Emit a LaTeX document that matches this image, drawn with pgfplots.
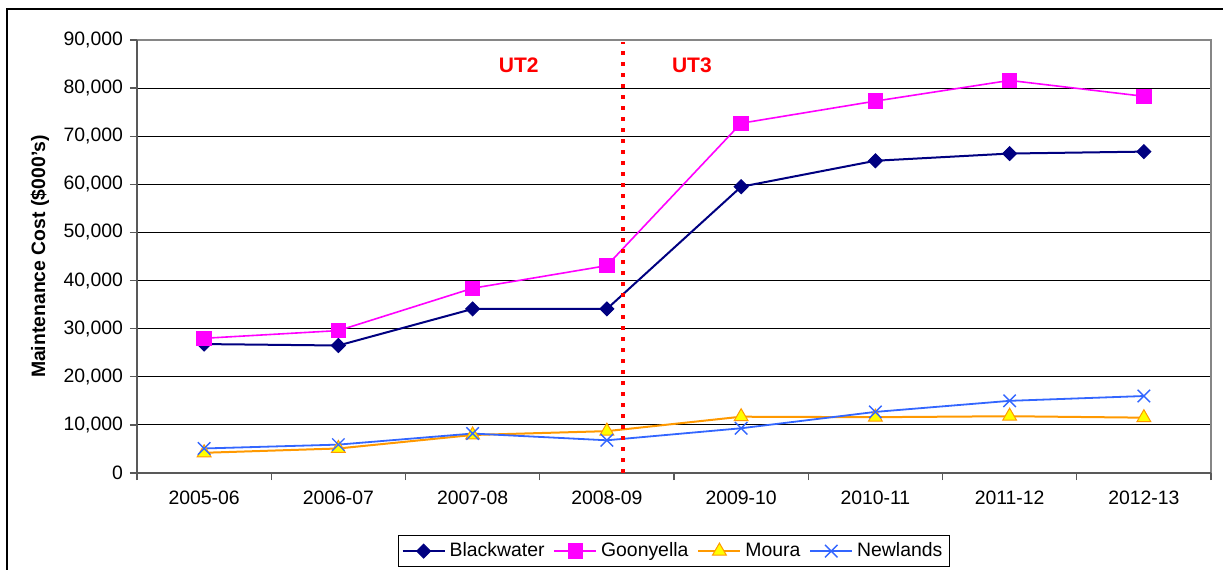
\documentclass[border=0pt]{standalone}
\usepackage{pgfplots}
\pgfplotsset{compat=1.18}
\usepackage{fontspec}
\setmainfont{Liberation Sans}
\definecolor{bw}{HTML}{000080}
\definecolor{gy}{HTML}{FF00FF}
\definecolor{mo}{HTML}{FF9900}
\definecolor{moy}{HTML}{FFFF00}
\definecolor{nl}{HTML}{3366FF}
\definecolor{ax}{HTML}{595959}
\definecolor{bd}{HTML}{868686}
\begin{document}
\begin{tikzpicture}[font=\fontsize{9.7bp}{11.6bp}\selectfont]
\begin{axis}[
  width=537bp, height=216.5bp, scale only axis,
  xmin=-0.5, xmax=7.5, ymin=0, ymax=90000,
  xtick={-0.5,0.5,...,7.5},
  x tick label as interval,
  xticklabels={2005-06,2006-07,2007-08,2008-09,2009-10,2010-11,2011-12,2012-13},
  ytick={0,10000,...,90000},
  ymajorgrids, grid style={black, line width=0.5bp},
  axis line style={draw=none},
  tick align=outside,
  major tick length=3.5bp,
  tick style={ax, line width=0.7bp},
  xtick pos=left, ytick pos=left,
  scaled y ticks=false,
  yticklabel style={/pgf/number format/.cd, fixed, 1000 sep={,}, assume math mode=true},
  xticklabel style={yshift=-2bp},
  ylabel={\bfseries Maintenance Cost (\$000's)},
  ylabel style={at={(axis description cs:-0.0903,0.5)}, anchor=center},
  clip=false,
  legend columns=4,
  legend style={at={(0.5,-0.1432)}, anchor=north, draw=black, line width=0.6bp,
    inner xsep=1.5bp, inner ysep=1.5bp,
    /tikz/every even column/.append style={column sep=2.5bp}},
  legend cell align=left,
  legend image code/.code={\draw[mark repeat=2,mark phase=2,#1] plot coordinates {(0bp,0bp) (10.5bp,0bp) (21bp,0bp)};},
]
\addplot[color=bw, line width=1bp, mark=square*, mark size=2.45bp, mark options={rotate=45, fill=bw, line width=0.5bp}]
  coordinates {(0,26800) (1,26500) (2,34100) (3,34100) (4,59500) (5,64900) (6,66400) (7,66800)};
\addlegendentry{Blackwater}
\addplot[color=gy, line width=0.8bp, mark=square*, mark size=3.6bp, mark options={fill=gy, line width=0.5bp}]
  coordinates {(0,28000) (1,29600) (2,38400) (3,43100) (4,72700) (5,77300) (6,81600) (7,78300)};
\addlegendentry{Goonyella}
\addplot[color=mo, line width=1bp, mark=triangle*, mark size=4bp, mark options={fill=moy, draw=mo, line width=0.5bp}]
  coordinates {(0,4200) (1,5100) (2,7900) (3,8700) (4,11700) (5,11600) (6,11800) (7,11500)};
\addlegendentry{Moura}
\addplot[color=nl, line width=0.9bp, mark=x, mark size=4.4bp, mark options={line width=0.7bp}]
  coordinates {(0,5100) (1,5900) (2,8200) (3,6800) (4,9300) (5,12700) (6,15000) (7,16000)};
\addlegendentry{Newlands}
\draw[bd, line width=0.6bp] (rel axis cs:0,1) -- (rel axis cs:1,1) -- (rel axis cs:1,0);
\draw[ax, line width=1bp] (rel axis cs:0,1) -- (rel axis cs:0,0) -- (rel axis cs:1,0);
\draw[red, line width=2bp, dash pattern=on 2bp off 3.5bp] (axis cs:3.12,0) -- (axis cs:3.12,89500);
\node[text=red, font=\bfseries\fontsize{10.5bp}{12bp}\selectfont] at (axis cs:2.344,84800) {UT2};
\node[text=red, font=\bfseries\fontsize{10.5bp}{12bp}\selectfont] at (axis cs:3.633,84800) {UT3};
\end{axis}
\draw[black, line width=0.75bp] (-65bp,-80bp) -- (-65bp,232bp) -- (600bp,232bp);
\pgfresetboundingbox
\path[use as bounding box] (-68.5bp,-48.5bp) rectangle (543bp,236.5bp);
\end{tikzpicture}
\end{document}
